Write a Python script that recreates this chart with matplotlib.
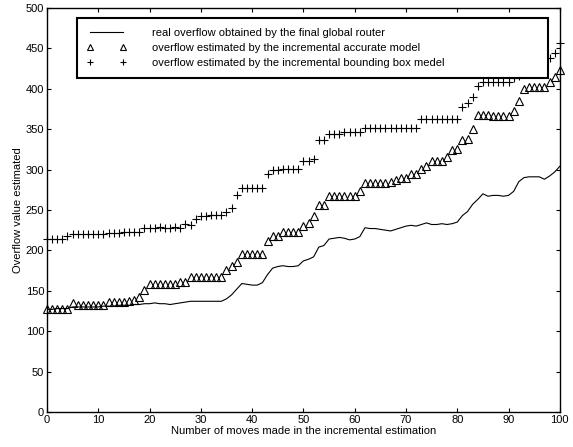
import numpy as np
import matplotlib
matplotlib.use("Agg")
import matplotlib.pyplot as plt

plt.rcParams['font.family'] = ['Liberation Sans', 'DejaVu Sans']

# Data (x = number of moves, 0..100)
moves = np.arange(0, 101)

real_overflow = [
    127, 127, 128, 128, 128, 130, 130, 130, 130, 130,   # 0-9
    130, 131, 131, 131, 132, 132, 132, 133, 133, 134,   # 10-19
    134, 135, 134, 134, 133, 134, 135, 136, 137, 137,   # 20-29
    137, 137, 137, 137, 137, 140, 145, 152, 159, 158,   # 30-39
    157, 157, 160, 170, 178, 180, 181, 180, 180, 181,   # 40-49
    187, 189, 192, 204, 206, 214, 215, 216, 215, 213,   # 50-59
    214, 217, 228, 227, 227, 226, 225, 224, 226, 228,   # 60-69
    230, 231, 230, 232, 234, 232, 232, 233, 232, 233,   # 70-79
    235, 243, 248, 257, 263, 270, 267, 268, 268, 267,   # 80-89
    268, 273, 285, 290, 291, 291, 291, 288, 292, 297,   # 90-99
    304,
]

accurate_model = [
    127, 127, 127, 127, 127, 135, 133, 133, 133, 133,   # 0-9
    133, 133, 136, 136, 136, 136, 137, 139, 142, 151,   # 10-19
    158, 158, 158, 158, 158, 158, 161, 161, 167, 167,   # 20-29
    167, 167, 167, 167, 167, 176, 181, 186, 196, 196,   # 30-39
    196, 196, 196, 212, 218, 218, 223, 223, 223, 223,   # 40-49
    230, 234, 242, 256, 256, 267, 267, 267, 267, 267,   # 50-59
    267, 274, 283, 283, 283, 283, 283, 285, 287, 290,   # 60-69
    290, 294, 294, 301, 305, 311, 311, 311, 316, 324,   # 70-79
    326, 336, 338, 350, 367, 367, 367, 366, 366, 366,   # 80-89
    366, 372, 385, 400, 402, 402, 402, 402, 408, 415,   # 90-99
    423,
]

bbox_model = [
    214, 214, 214, 214, 218, 220, 220, 220, 220, 220,   # 0-9
    220, 220, 222, 222, 222, 223, 223, 223, 223, 228,   # 10-19
    228, 228, 229, 228, 228, 229, 228, 233, 232, 239,   # 20-29
    242, 243, 244, 244, 244, 248, 252, 268, 277, 277,   # 30-39
    277, 277, 277, 294, 299, 299, 301, 301, 301, 301,   # 40-49
    310, 311, 313, 337, 337, 344, 344, 344, 346, 346,   # 50-59
    346, 346, 352, 352, 352, 352, 352, 352, 352, 352,   # 60-69
    352, 352, 352, 362, 362, 362, 362, 362, 362, 362,   # 70-79
    362, 378, 382, 390, 403, 408, 408, 408, 408, 408,   # 80-89
    408, 413, 416, 419, 422, 426, 430, 434, 438, 444,   # 90-99
    457,
]

labels = [
    'real overflow obtained by the final global router',
    'overflow estimated by the incremental accurate model',
    'overflow estimated by the incremental bounding box medel',
]

fig = plt.figure(figsize=(5.73, 4.47), dpi=100)
ax = fig.add_axes([0.082, 0.0783, 0.895, 0.904])

ax.plot(moves, real_overflow, color='black', lw=0.8, label=labels[0])
ax.plot(moves, accurate_model, linestyle='none', marker='^', ms=6,
        mfc='none', mec='black', mew=0.8, clip_on=False, label=labels[1])
ax.plot(moves, bbox_model, linestyle='none', marker='+', ms=6,
        color='black', mew=0.8, clip_on=False, label=labels[2])

ax.set_xlim(0, 100)
ax.set_ylim(0, 500)
ax.set_xticks(np.arange(0, 101, 10))
ax.set_yticks(np.arange(0, 501, 50))
ax.tick_params(direction='in', top=True, right=True, length=3,
               width=0.8, labelsize=8, pad=2)
for s in ax.spines.values():
    s.set_linewidth(1.0)

ax.set_xlabel('Number of moves made in the incremental estimation',
              fontsize=8, labelpad=1)
ax.set_ylabel('Overflow value estimated', fontsize=8, labelpad=2)

leg = ax.legend(loc='upper left', bbox_to_anchor=(0.058, 0.829, 0.919, 0.146),
                mode='expand', fontsize=8, numpoints=2, fancybox=False,
                framealpha=1, edgecolor='black', borderpad=0.9,
                labelspacing=0.45, handlelength=3.6, handletextpad=2.3,
                borderaxespad=0)
leg.get_frame().set_linewidth(1.5)
for h in leg.legend_handles:
    h.set_markersize(5)

fig.savefig('out.png', dpi=100)
